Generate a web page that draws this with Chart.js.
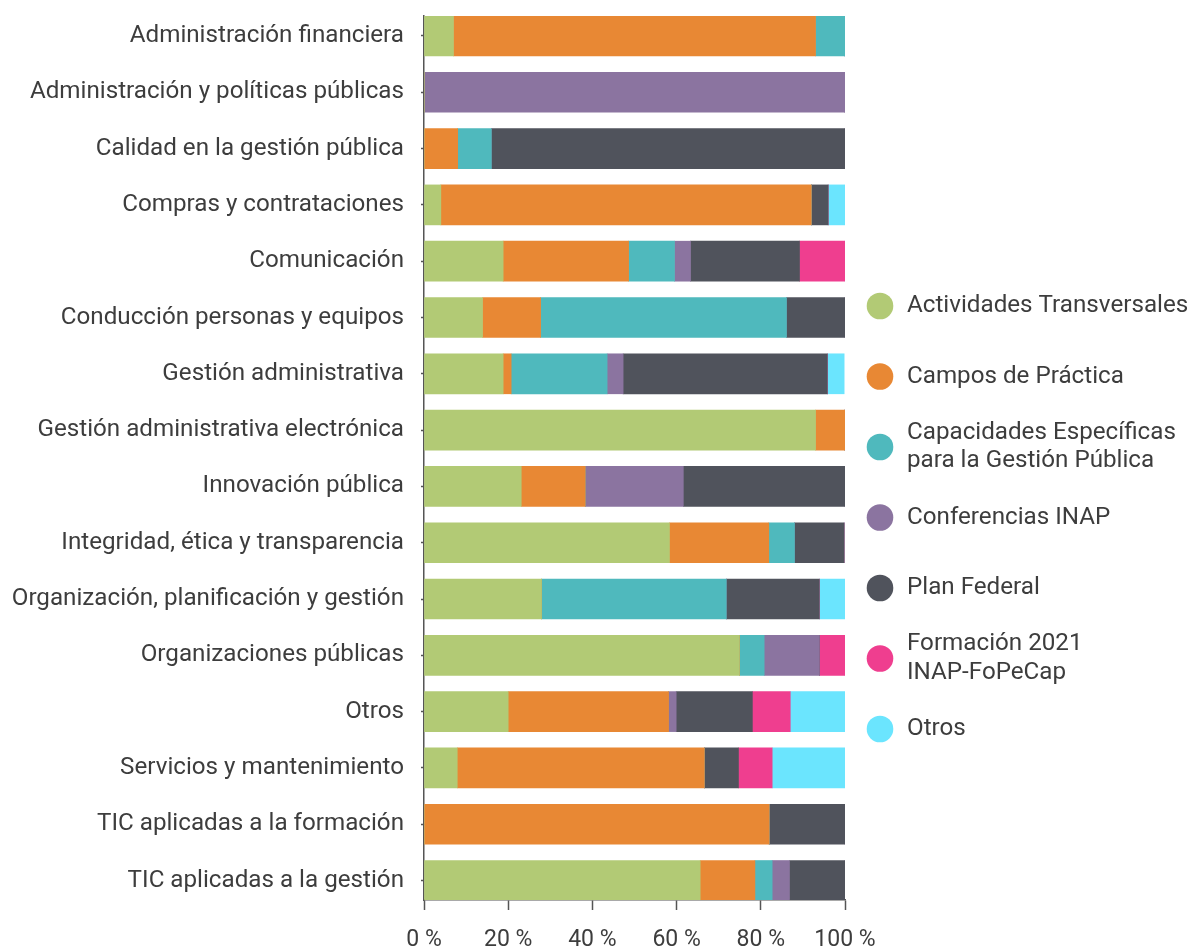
<!DOCTYPE html>
<html lang="es">
<head>
<meta charset="utf-8">
<title>Actividades por área temática</title>
<script src="https://cdn.jsdelivr.net/npm/chart.js@4.4.1/dist/chart.umd.min.js"></script>
<style>
  html, body { margin: 0; padding: 0; background: #ffffff; }
  #wrap { position: relative; width: 1191px; height: 949px; }
</style>
</head>
<body>
<div id="wrap"><canvas id="chart"></canvas></div>
<script>
// Áreas temáticas (una barra por área)
const categories = [
  'Administración financiera',
  'Administración y políticas públicas',
  'Calidad en la gestión pública',
  'Compras y contrataciones',
  'Comunicación',
  'Conducción personas y equipos',
  'Gestión administrativa',
  'Gestión administrativa electrónica',
  'Innovación pública',
  'Integridad, ética y transparencia',
  'Organización, planificación y gestión',
  'Organizaciones públicas',
  'Otros',
  'Servicios y mantenimiento',
  'TIC aplicadas a la formación',
  'TIC aplicadas a la gestión'
];

// Porcentaje de cada programa dentro de cada área
const actividadesTransversales = [7, 0, 0, 4, 18.8, 13.9, 18.8, 93, 23.1, 58.3, 27.9, 74.9, 20, 7.9, 0, 65.6];
const camposDePractica        = [86, 0, 8, 88, 29.8, 13.8, 1.9, 7, 15.2, 23.6, 0, 0, 38.1, 58.7, 82, 13];
const capacidadesEspecificas  = [7, 0, 8, 0, 10.9, 58.4, 22.8, 0, 0, 6.1, 43.9, 5.9, 0, 0, 0, 4.1];
const conferenciasInap        = [0, 100, 0, 0, 3.8, 0, 3.8, 0, 23.3, 0, 0, 13.1, 1.8, 0, 0, 4.1];
const planFederal             = [0, 0, 84, 4, 25.9, 13.9, 48.5, 0, 38.4, 11.8, 22.1, 0, 18.1, 8.1, 18, 13.2];
const formacion2021           = [0, 0, 0, 0, 10.8, 0, 0, 0, 0, 0, 0, 6.1, 9, 8, 0, 0];
const otrosProgramas          = [0, 0, 0, 4, 0, 0, 4, 0, 0, 0, 6.1, 0, 13, 17.3, 0, 0];

const seriesNames = [
  'Actividades Transversales',
  'Campos de Práctica',
  'Capacidades Específicas\npara la Gestión Pública',
  'Conferencias INAP',
  'Plan Federal',
  'Formación 2021\nINAP-FoPeCap',
  'Otros'
];
const seriesValues = [
  actividadesTransversales, camposDePractica, capacidadesEspecificas,
  conferenciasInap, planFederal, formacion2021, otrosProgramas
];
const seriesColors = ['#B2CA75', '#E88834', '#4FB9BD', '#8B74A0', '#50535C', '#EF3E8F', '#6BE5FE'];

// Eje x en porcentaje
const xTickValues = [0, 20, 40, 60, 80, 100];

const FONT = 'Roboto, "Noto Sans", "DejaVu Sans", sans-serif';
const TEXT = '#3d3d3d';
const AXIS = '#555555';

// Leyenda vertical con círculos, a la derecha del área de barras
const sideLegend = {
  id: 'sideLegend',
  afterDraw(chart, args, opts) {
    const ctx = chart.ctx;
    ctx.save();
    ctx.font = opts.fontSize + 'px ' + FONT;
    ctx.textBaseline = 'middle';
    ctx.textAlign = 'left';
    chart.data.datasets.forEach((ds, i) => {
      const cy = opts.top + i * opts.step;
      ctx.beginPath();
      ctx.arc(opts.dotX, cy, opts.radius, 0, Math.PI * 2);
      ctx.fillStyle = ds.backgroundColor;
      ctx.fill();
      const lines = ds.legendText.split('\n');
      const first = cy - (lines.length - 1) * opts.lineHeight / 2;
      ctx.fillStyle = TEXT;
      lines.forEach((ln, k) => ctx.fillText(ln, opts.textX, first + k * opts.lineHeight));
    });
    ctx.restore();
  }
};

const datasets = seriesNames.map((name, s) => ({
  label: name.replace('\n', ' '),
  legendText: name,
  data: seriesValues[s].map((v, i) => ({ x: v, y: i })),
  backgroundColor: seriesColors[s],
  borderWidth: 0,
  barThickness: 40
}));

new Chart(document.getElementById('chart'), {
  type: 'bar',
  data: { datasets },
  plugins: [sideLegend],
  options: {
    indexAxis: 'y',
    responsive: true,
    maintainAspectRatio: false,
    animation: false,
    layout: { padding: { top: 16, right: 346, bottom: 0, left: 0 } },
    plugins: {
      legend: { display: false },
      tooltip: { enabled: false },
      sideLegend: { top: 306, step: 70.5, dotX: 880, radius: 13.3, textX: 907, fontSize: 24.2, lineHeight: 28.3 }
    },
    scales: {
      x: {
        type: 'linear',
        min: 0,
        max: 100,
        stacked: true,
        afterBuildTicks: s => { s.ticks = xTickValues.map(v => ({ value: v })); },
        afterFit: s => { s.height = 49; },
        ticks: {
          callback: v => v + ' %',
          font: { family: FONT, size: 23 },
          color: TEXT,
          padding: 16,
          maxRotation: 0
        },
        grid: { drawOnChartArea: false, tickLength: 10, color: AXIS, tickWidth: 1.5 },
        border: { color: AXIS, width: 1.5 }
      },
      y: {
        type: 'linear',
        reverse: true,
        offset: false,
        min: -0.355,
        max: 15.346,
        stacked: true,
        afterBuildTicks: s => { s.ticks = categories.map((c, i) => ({ value: i })); },
        afterFit: s => { s.width = 424; s.paddingTop = 0; s.paddingBottom = 0; },
        ticks: {
          callback: v => categories[v],
          font: { family: FONT, size: 24.2 },
          color: TEXT,
          padding: 17,
          autoSkip: false
        },
        grid: { drawOnChartArea: false, offset: false, tickLength: 3, color: AXIS, tickWidth: 1.5 },
        border: { color: AXIS, width: 1.5 }
      }
    }
  }
});
</script>
</body>
</html>
